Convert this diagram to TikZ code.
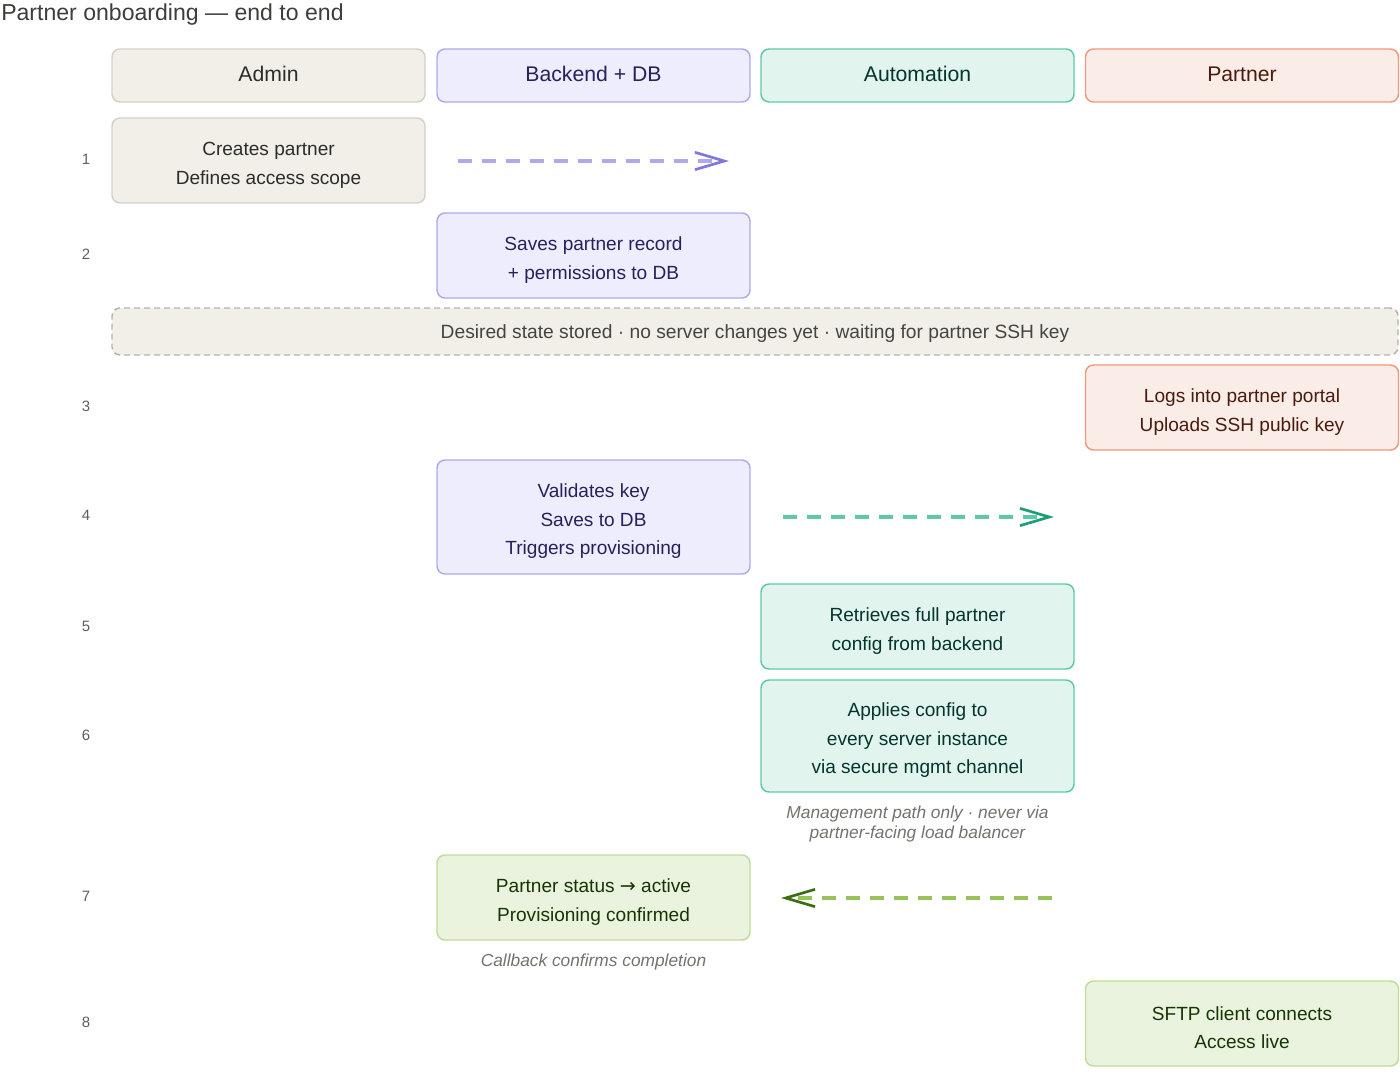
\documentclass[tikz,border=0pt]{standalone}
\usepackage{fontspec}
\setmainfont{Liberation Sans}
\newfontfamily\symf{DejaVu Sans}
\usetikzlibrary{arrows.meta}
\newcommand\st{\rule{0pt}{17pt}}
\definecolor{adfill}{HTML}{F1EFE8}\definecolor{adline}{HTML}{D3D1C7}\definecolor{adtext}{HTML}{2C2C2A}
\definecolor{bkfill}{HTML}{EEEDFE}\definecolor{bkline}{HTML}{AFA9EC}\definecolor{bktext}{HTML}{26215C}
\definecolor{aufill}{HTML}{E1F5EE}\definecolor{auline}{HTML}{5DCAA5}\definecolor{autext}{HTML}{04342C}
\definecolor{ptfill}{HTML}{FAECE7}\definecolor{ptline}{HTML}{F0997B}\definecolor{pttext}{HTML}{4A1B0C}
\definecolor{lmfill}{HTML}{EAF3DE}\definecolor{lmline}{HTML}{C0DD97}\definecolor{lmtext}{HTML}{173404}
\definecolor{purhead}{HTML}{7F77DD}\definecolor{grnhead}{HTML}{1D9E75}
\definecolor{lmarrow}{HTML}{97C459}\definecolor{lmhead}{HTML}{3B6D11}
\definecolor{titlec}{HTML}{3D3D3A}\definecolor{numc}{HTML}{5F5E5A}\definecolor{notec}{HTML}{73726C}
\definecolor{banline}{HTML}{B4B2A9}\definecolor{bantext}{HTML}{444441}
\begin{document}
\begin{tikzpicture}[x=0.75pt,y=-0.75pt,
  box/.style={rounded corners=6pt, line width=1.1pt, align=center, inner sep=0pt,
    minimum width=234.75pt, minimum height=63.75pt, font=\fontsize{14.3}{21.3}\selectfont},
  hdr/.style={minimum height=39.75pt, font=\fontsize{15.9}{18}\selectfont, text height=11.5pt, text depth=2.5pt},
  admin/.style={box, fill=adfill, draw=adline, text=adtext},
  backend/.style={box, fill=bkfill, draw=bkline, text=bktext},
  auto/.style={box, fill=aufill, draw=auline, text=autext},
  partner/.style={box, fill=ptfill, draw=ptline, text=pttext},
  lime/.style={box, fill=lmfill, draw=lmline, text=lmtext},
  num/.style={text=numc, font=\fontsize{11.25}{13}\selectfont},
  note/.style={text=notec, align=center, font=\fontsize{13}{15}\selectfont\itshape},
  flow/.style={line width=2.3pt, dash pattern=on 10.5pt off 7.5pt},
  tip/.style={-{Straight Barb[length=22pt,width=13pt,line width=2pt,color=#1]}},
]
\useasboundingbox (0,0) rectangle (1400,1075);
\node[anchor=west, text=titlec, font=\fontsize{17.3}{20}\selectfont, inner sep=0pt] (title) at (1,15) {Partner onboarding — end to end};

% headers
\node[admin, hdr] (hA) at (268.5,75.5) {Admin};
\node[backend, hdr] (hB) at (593.5,75.5) {Backend + DB};
\node[auto, hdr] (hC) at (917.5,75.5) {Automation};
\node[partner, hdr] (hD) at (1242,75.5) {Partner};

% row numbers
\node[num] (n1) at (86,159) {1};
\node[num] (n2) at (86,254) {2};
\node[num] (n3) at (86,406) {3};
\node[num] (n4) at (86,515) {4};
\node[num] (n5) at (86,626) {5};
\node[num] (n6) at (86,735) {6};
\node[num] (n7) at (86,896) {7};
\node[num] (n8) at (86,1022) {8};

% steps
\node[admin] (s1) at (268.5,160.5) {\st Creates partner\\Defines access scope};
\node[backend] (s2) at (593.5,255.5) {\st Saves partner record\\+ permissions to DB};
\node[box, minimum width=964.5pt, minimum height=35.25pt, fill=adfill, draw=banline,
  dash pattern=on 4.5pt off 3pt, text=bantext, font=\fontsize{14.4}{22}\selectfont,
  execute at begin node={\rule{0pt}{14pt}}] (ban) at (755,331.5)
  {Desired state stored · no server changes yet · waiting for partner SSH key};
\node[partner] (s3) at (1242,407.5) {\st Logs into partner portal\\Uploads SSH public key};
\node[backend, minimum height=85.5pt] (s4) at (593.5,517) {\st Validates key\\Saves to DB\\Triggers provisioning};
\node[auto] (s5) at (917.5,626.5) {\st Retrieves full partner\\config from backend};
\node[auto, minimum height=84pt] (s6) at (917.5,736) {\st Applies config to\\every server instance\\via secure mgmt channel};
\node[note] (m6) at (917.5,824) {Management path only · never via\\partner-facing load balancer};
\node[lime] (s7) at (593.5,897.5) {\st Partner status {\symf →} active\\Provisioning confirmed};
\node[note] (m7) at (593.5,962) {Callback confirms completion};
\node[lime] (s8) at (1242,1023.5) {\st SFTP client connects\\Access live};

% arrows
\coordinate (a1s) at (458,161); \coordinate (a1e) at (729,161);
\coordinate (a4s) at (783,517); \coordinate (a4e) at (1054,517);
\coordinate (a7s) at (1052,898); \coordinate (a7e) at (781,898);
\draw[flow, draw=bkline, tip=purhead] (a1s) -- (a1e);
\draw[flow, draw=auline, tip=grnhead] (a4s) -- (a4e);
\draw[flow, draw=lmarrow, tip=lmhead] (a7s) -- (a7e);
\end{tikzpicture}
\end{document}
